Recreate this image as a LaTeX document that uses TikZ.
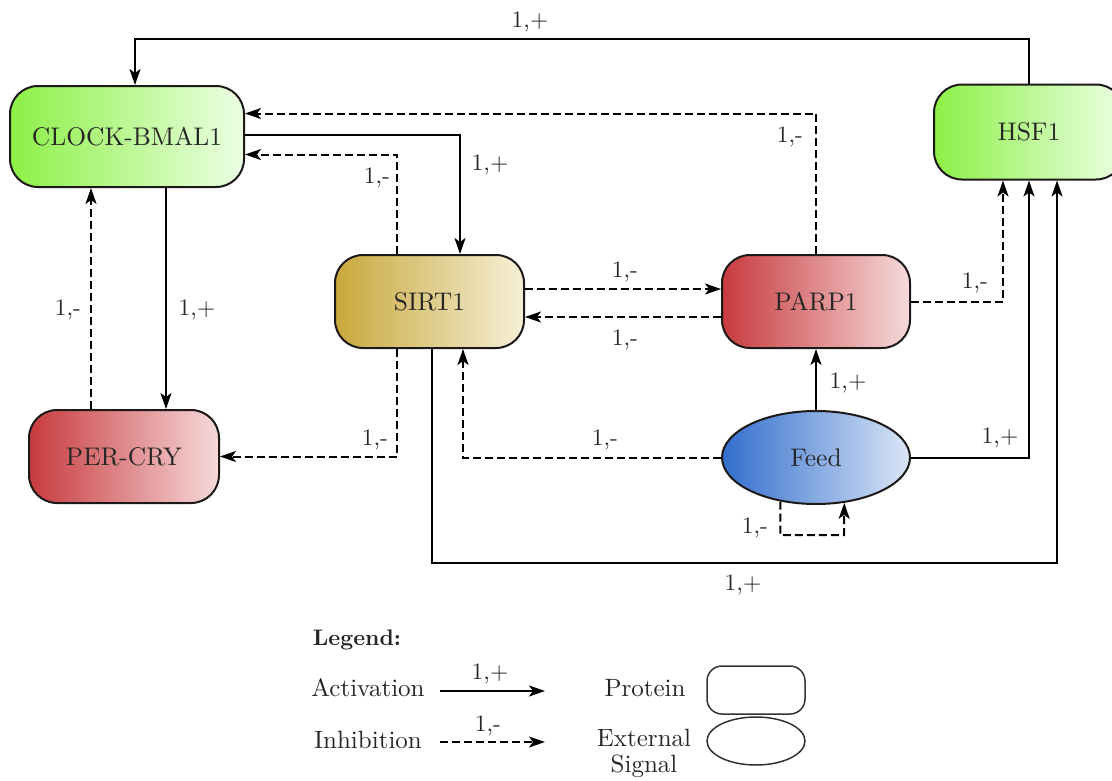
\documentclass[tikz,border=0pt]{standalone}
\usepackage{fontspec}
\setmainfont{lmroman10-regular.otf}[BoldFont=lmroman10-bold.otf]
\usetikzlibrary{arrows.meta,shapes.geometric,calc}
\definecolor{gL}{RGB}{140,240,70}
\definecolor{gR}{RGB}{236,255,228}
\definecolor{yL}{RGB}{200,168,60}
\definecolor{yR}{RGB}{246,240,215}
\definecolor{rL}{RGB}{200,58,62}
\definecolor{rR}{RGB}{246,218,218}
\definecolor{bL}{RGB}{50,110,205}
\definecolor{bR}{RGB}{218,230,246}
\definecolor{bd}{RGB}{30,25,25}
\begin{document}
\begin{tikzpicture}[x=1pt,y=-1pt,
  prot/.style={draw=bd, line width=2pt, rounded corners=28pt, text=black!85,
    font=\fontsize{25.5}{30}\selectfont, inner sep=0pt},
  sig/.style={ellipse, draw=bd, line width=2pt, text=black!85,
    font=\fontsize{25.5}{30}\selectfont, inner sep=0pt},
  act/.style={line width=2pt, -{Stealth[length=16pt,width=11pt,inset=4pt]}},
  inh/.style={act, dash pattern=on 8pt off 4pt},
  lbl/.style={font=\fontsize{23.5}{28}\selectfont, text=black!85, inner sep=0pt},
  lgd/.style={font=\fontsize{25}{30}\selectfont, text=black!85, inner sep=0pt}]
\useasboundingbox (0,0) rectangle (1112,780);

% nodes
\node[prot, left color=gL, right color=gR, minimum width=234, minimum height=101] (CLOCK) at (127,136.5) {CLOCK-BMAL1};
\node[prot, left color=gL, right color=gR, minimum width=190, minimum height=95] (HSF1) at (1029,132) {HSF1};
\node[prot, left color=yL, right color=yR, minimum width=189, minimum height=93] (SIRT1) at (429.5,301.5) {SIRT1};
\node[prot, left color=rL, right color=rR, minimum width=188, minimum height=93] (PARP1) at (816,301.5) {PARP1};
\node[prot, left color=rL, right color=rR, minimum width=190, minimum height=93] (PERCRY) at (124,456.5) {PER-CRY};
\node[sig, left color=bL, right color=bR, minimum width=188, minimum height=93] (Feed) at (816,457.5) {Feed};

\coordinate (bot) at (900,563);
\coordinate (loopc) at (844,535);

% connectors
\draw[act] (HSF1.north) -- ++(0,-45) -| ([xshift=8pt]CLOCK.north);
\draw[inh] (PARP1.north) |- ([yshift=23pt]CLOCK.east);
\draw[act] ([yshift=2pt]CLOCK.east) -| ([xshift=30.5pt]SIRT1.north);
\draw[inh] ([xshift=-32.5pt]SIRT1.north) |- ([yshift=-18pt]CLOCK.east);
\draw[inh] ([xshift=-33pt]PERCRY.north) -- ([xshift=-33pt]PERCRY.north |- CLOCK.south);
\draw[act] ([xshift=39pt]CLOCK.south) -- ([xshift=39pt]CLOCK.south |- PERCRY.north);
\draw[inh] ([yshift=12.5pt]SIRT1.east) -- ([yshift=12.5pt]SIRT1.east -| PARP1.west);
\draw[inh] ([yshift=-15.5pt]PARP1.west) -- ([yshift=-15.5pt]PARP1.west -| SIRT1.east);
\draw[inh] (PARP1.east) -| ([xshift=-26pt]HSF1.south);
\draw[act] (Feed.north) -- (PARP1.south);
\draw[inh] (Feed.west) -| ([xshift=33.5pt]SIRT1.south);
\draw[act] (Feed.east) -| (HSF1.south);
\draw[act] ([xshift=2.5pt]SIRT1.south) |- (bot) -| ([xshift=28pt]HSF1.south);
\draw[inh] ([xshift=-32.5pt]SIRT1.south) |- (PERCRY.east);
\draw[inh] (Feed.231) |- (loopc) -- (Feed.302);

% labels
\node[lbl] (l1) at (530,22) {1,+};
\node[lbl] (l2) at (790,137) {1,-};
\node[lbl] (l3) at (490,165) {1,+};
\node[lbl] (l4) at (377,178) {1,-};
\node[lbl] (l5) at (68,310) {1,-};
\node[lbl] (l6) at (197,310) {1,+};
\node[lbl] (l7) at (625,272) {1,-};
\node[lbl] (l8) at (625,340) {1,-};
\node[lbl] (l9) at (975,283) {1,-};
\node[lbl] (l10) at (848,383) {1,+};
\node[lbl] (l11) at (605,440) {1,-};
\node[lbl] (l12) at (1000,438) {1,+};
\node[lbl] (l13) at (743,585) {1,+};
\node[lbl] (l14) at (375,440) {1,-};
\node[lbl] (l15) at (755,528) {1,-};

% legend
\node[lgd, font=\fontsize{22.5}{27}\selectfont\bfseries] (lg) at (357,640) {Legend:};
\node[lgd] (la) at (368,688) {Activation};
\node[lgd] (li) at (368,740) {Inhibition};
\coordinate (a1) at (440,691);
\coordinate (a2) at (545,691);
\coordinate (i1) at (440,742);
\coordinate (i2) at (545,742);
\draw[act] (a1) -- (a2);
\draw[inh] (i1) -- (i2);
\node[lbl] (lap) at (490,674) {1,+};
\node[lbl] (lim) at (488,726) {1,-};
\node[lgd] (lp) at (645,688) {Protein};
\node[lgd, align=center, font=\fontsize{25}{26}\selectfont] (le) at (644,753) {External\\Signal};
\node[draw=black!80, line width=1.5pt, rounded corners=15pt, minimum width=98, minimum height=48] (bp) at (756,690) {};
\node[ellipse, draw=black!80, line width=1.5pt, minimum width=98, minimum height=48, inner sep=0pt] (be) at (756,741) {};
\end{tikzpicture}
\end{document}
